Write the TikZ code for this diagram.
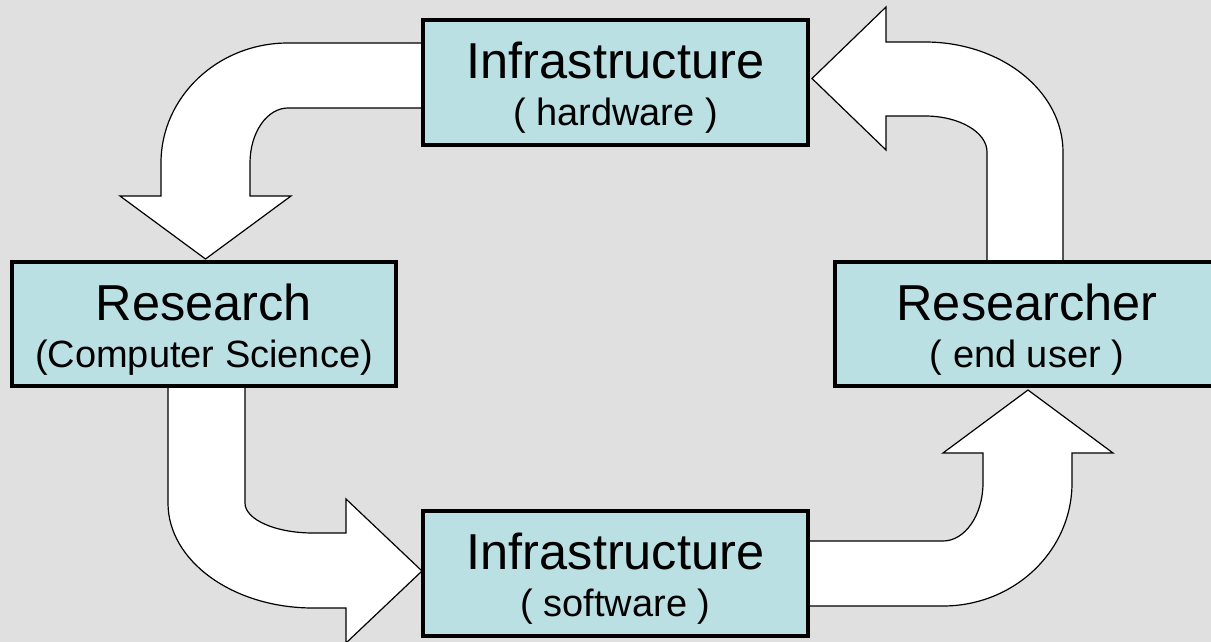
\documentclass[tikz,border=0pt]{standalone}
\usepackage{fontspec}
\setmainfont{Liberation Sans}
\definecolor{bg}{RGB}{224,224,224}
\definecolor{boxfill}{RGB}{187,224,227}
\tikzset{
  blockbox/.style={draw=black, fill=boxfill, line width=4pt, rectangle, inner sep=0pt, outer sep=0pt},
  bigtext/.style={anchor=base, inner sep=0pt, font=\fontsize{50.5}{60}\selectfont},
  smalltext/.style={anchor=base, inner sep=0pt, font=\fontsize{38}{46}\selectfont},
  blockarrow/.style={draw=black, fill=white, line width=1.2pt, line join=miter}
}
\begin{document}
\begin{tikzpicture}[x=1pt, y=-1pt]
\useasboundingbox (0,0) rectangle (1211,642);
\fill[bg] (0,0) rectangle (1211,642);
\begin{scope}
\clip (0,0) rectangle (1211,642);
% arrow: hardware -> research
\draw[blockarrow] (440,43) -- (288,43)
  .. controls (217.9,43) and (161,96.8) .. (161,163)
  -- (161,196) -- (120,196) -- (205.5,259) -- (291,196) -- (250,196) -- (250,163)
  .. controls (250,132.6) and (267,108) .. (288,108)
  -- (440,108) -- cycle;
% arrow: researcher -> hardware
\draw[blockarrow] (1063,280) -- (1063,152)
  .. controls (1063,91.3) and (1001.2,42) .. (925,42)
  -- (886,42) -- (886,7) -- (812,78.5) -- (886,150) -- (886,116) -- (925,116)
  .. controls (959.2,116) and (987,132.1) .. (987,152)
  -- (987,280) -- cycle;
% arrow: research -> software
\draw[blockarrow] (168,370) -- (168,503)
  .. controls (168,561) and (233,608) .. (313,608)
  -- (346,608) -- (346,643) -- (422,571) -- (346,499) -- (346,533) -- (313,533)
  .. controls (275.5,533) and (245,519.6) .. (245,503)
  -- (245,370) -- cycle;
% arrow: software -> researcher
\draw[blockarrow] (790,541) -- (943,541)
  .. controls (965,541) and (983,515) .. (983,483)
  -- (983,453) -- (943,453) -- (1028,390) -- (1113,453) -- (1072,453) -- (1072,483)
  .. controls (1072,550.9) and (1014.2,606) .. (943,606)
  -- (790,606) -- cycle;
% boxes
\node[blockbox, minimum width=385pt, minimum height=125pt] (hw) at (615.5,82.5) {};
\node[blockbox, minimum width=384pt, minimum height=124pt] (rs) at (204,324) {};
\node[blockbox, minimum width=384pt, minimum height=124pt] (ru) at (1027,324) {};
\node[blockbox, minimum width=385pt, minimum height=125pt] (sw) at (615.5,573.5) {};
\end{scope}
% texts
\node[bigtext] (hwa) at ([yshift=-58pt]hw.north) {Infrastructure};
\node[smalltext] (hwb) at ([yshift=-105pt]hw.north) {( hardware )};
\node[bigtext] (rsa) at ([yshift=-58pt]rs.north) {Research};
\node[smalltext] (rsb) at ([yshift=-105pt]rs.north) {(Computer Science)};
\node[bigtext] (rua) at ([yshift=-58pt]ru.north) {Researcher};
\node[smalltext] (rub) at ([yshift=-105pt]ru.north) {( end user )};
\node[bigtext] (swa) at ([yshift=-58pt]sw.north) {Infrastructure};
\node[smalltext] (swb) at ([yshift=-105pt]sw.north) {( software )};
\end{tikzpicture}
\end{document}
